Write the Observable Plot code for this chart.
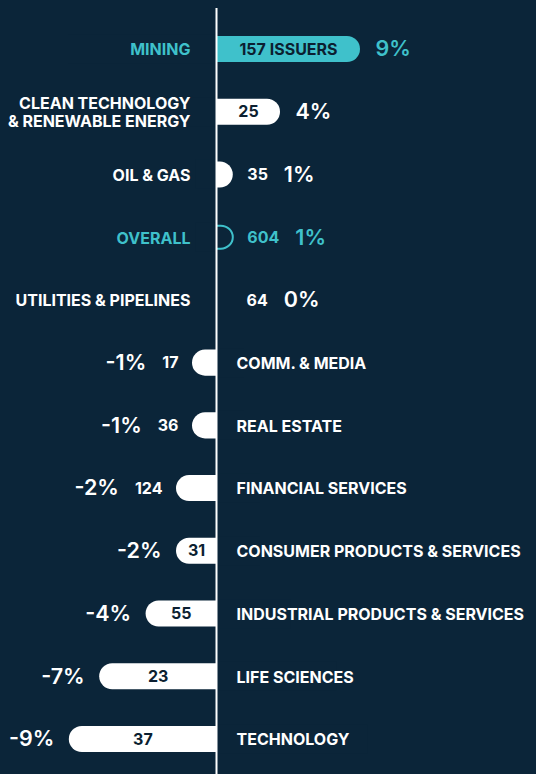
<!DOCTYPE html>
<html>
<head>
<meta charset="utf-8">
<script src="https://cdn.jsdelivr.net/npm/d3@7"></script>
<script src="https://cdn.jsdelivr.net/npm/@observablehq/plot@0.6"></script>
<style>
  html, body { margin: 0; padding: 0; background: #0b2539; }
  #chart svg { display: block; }
</style>
</head>
<body>
<div id="chart"></div>
<script>
// ---- data ----
const categories = [
  "MINING",
  "CLEAN TECHNOLOGY\n& RENEWABLE ENERGY",
  "OIL & GAS",
  "OVERALL",
  "UTILITIES & PIPELINES",
  "COMM. & MEDIA",
  "REAL ESTATE",
  "FINANCIAL SERVICES",
  "CONSUMER PRODUCTS & SERVICES",
  "INDUSTRIAL PRODUCTS & SERVICES",
  "LIFE SCIENCES",
  "TECHNOLOGY"
];
const changes = [9.0, 4.0, 1.05, 1.05, 0, -1.5, -1.5, -2.5, -2.5, -4.4, -7.3, -9.2];
const shownPct = ["9%", "4%", "1%", "1%", "0%", "-1%", "-1%", "-2%", "-2%", "-4%", "-7%", "-9%"];
const issuers = [157, 25, 35, 604, 64, 17, 36, 124, 31, 55, 23, 37];
const highlighted = ["MINING", "OVERALL"];
const outlined = ["OVERALL"];
const firstSuffix = " ISSUERS";

// ---- style ----
const BG = "#0b2539";
const TEAL = "#3fc1cb";
const WHITE = "#ffffff";
const INK = "#0c1f31";
const FONT = "Inter, 'Noto Sans', sans-serif";
const LABEL_SIZE = 16, COUNT_SIZE = 16, PCT_SIZE = 21.5;
const W = 536, H = 774;
const X_DOMAIN = [-13.5, 20];
const u = (X_DOMAIN[1] - X_DOMAIN[0]) / W; // data units per px

const ctx = document.createElement("canvas").getContext("2d");
function measure(t, font) { ctx.font = font; return ctx.measureText(t).width; }

const rows = categories.map((c, i) => {
  const v = changes[i];
  const sign = v >= 0 ? 1 : -1;
  const len = Math.abs(v) / u;
  const countText = issuers[i] + (i === 0 ? firstSuffix : "");
  const cw = measure(countText, `700 ${COUNT_SIZE}px ${FONT}`);
  const isOutline = outlined.includes(c);
  const inside = !isOutline && len >= cw + 16;
  const base = Math.max(len, 16);
  return {
    cat: c, v, sign, pct: shownPct[i], countText,
    color: highlighted.includes(c) ? TEAL : WHITE,
    outline: isOutline,
    inside,
    countX: inside ? v / 2 : sign * (base + 14) * u,
    pctX: inside ? sign * (len + 15) * u : sign * (base + 14 + cw + 16) * u,
    labelX: 0
  };
});

const filled = rows.filter(d => !d.outline && d.v !== 0);
const outl = rows.filter(d => d.outline);
const all = rows;

const chart = Plot.plot({
  width: W,
  height: H,
  marginTop: 8,
  marginBottom: 0,
  marginLeft: 0,
  marginRight: 0,
  style: { background: BG, fontFamily: FONT, overflow: "visible" },
  x: { axis: null, domain: X_DOMAIN, range: [0, W] },
  y: { axis: null, domain: categories, range: [36, 752], paddingInner: 0.585, paddingOuter: 0, round: false },
  marks: [
    Plot.barX(filled, { x1: d => -d.v, x2: d => d.v, y: "cat", fill: "color", rx: 13 }),
    Plot.barX(outl, { x1: d => -d.v, x2: d => d.v, y: "cat", fill: "none", stroke: "color", strokeWidth: 2, rx: 12, insetTop: 1.5, insetBottom: 1.5 }),
    Plot.barX(filled.concat(outl), { x1: () => 0, x2: d => -d.v - d.sign * 4 * u, y: "cat", fill: BG, insetTop: -1.5, insetBottom: -1.5 }),
    Plot.ruleX([0], { stroke: WHITE, strokeWidth: 2 }),
    Plot.text(all.filter(d => d.sign > 0), { x: "labelX", y: "cat", text: "cat", fill: "color", textAnchor: "end", dx: -26, fontSize: LABEL_SIZE, fontWeight: 700, lineHeight: 1.15 }),
    Plot.text(all.filter(d => d.sign < 0), { x: "labelX", y: "cat", text: "cat", fill: "color", textAnchor: "start", dx: 20, fontSize: LABEL_SIZE, fontWeight: 700, lineHeight: 1.15 }),
    Plot.text(all.filter(d => d.inside), { x: "countX", y: "cat", text: "countText", fill: INK, textAnchor: "middle", fontSize: COUNT_SIZE, fontWeight: 700 }),
    Plot.text(all.filter(d => !d.inside && d.sign > 0), { x: "countX", y: "cat", text: "countText", fill: "color", textAnchor: "start", fontSize: COUNT_SIZE, fontWeight: 700 }),
    Plot.text(all.filter(d => !d.inside && d.sign < 0), { x: "countX", y: "cat", text: "countText", fill: "color", textAnchor: "end", fontSize: COUNT_SIZE, fontWeight: 700 }),
    Plot.text(all.filter(d => d.sign > 0), { x: "pctX", y: "cat", text: "pct", fill: "color", textAnchor: "start", fontSize: PCT_SIZE, fontWeight: 600 }),
    Plot.text(all.filter(d => d.sign < 0), { x: "pctX", y: "cat", text: "pct", fill: "color", textAnchor: "end", fontSize: PCT_SIZE, fontWeight: 600 })
  ]
});
document.getElementById("chart").appendChild(chart);
</script>
</body>
</html>
